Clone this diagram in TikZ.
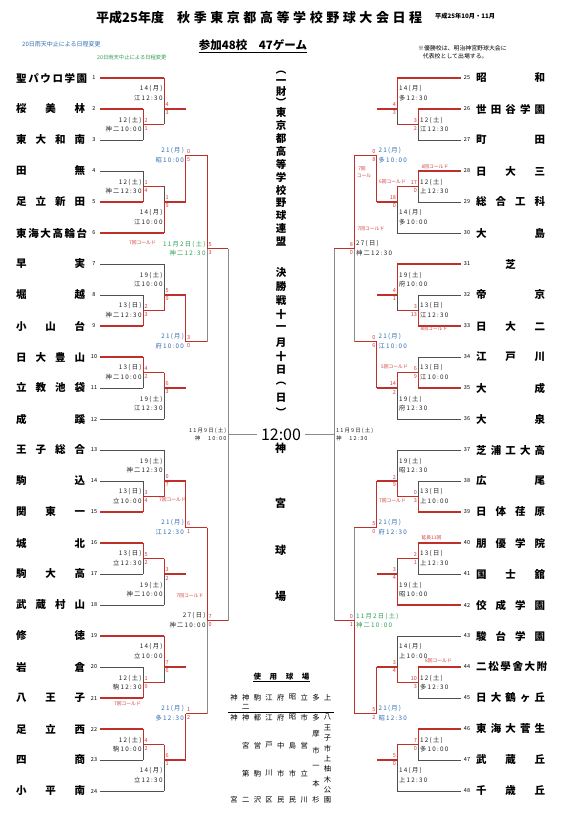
\documentclass[tikz,border=0pt]{standalone}
\usepackage{fontspec}
\setmainfont{Noto Sans CJK JP}
\newfontfamily\labf{Noto Sans CJK JP}[LetterSpace=20]
\definecolor{wred}{HTML}{C0302A}
\definecolor{lgray}{HTML}{505050}
\definecolor{mgray}{HTML}{8A8A8A}
\definecolor{sblue}{HTML}{2F6DB5}
\definecolor{sgreen}{HTML}{2E9E50}
\definecolor{scred}{HTML}{D23C3C}
\definecolor{lk}{HTML}{222222}
\newcounter{mm}
\newcommand\vs[5]{\if#5t\draw[win] (#1,#2) -- (#1,#4);\draw[los] (#1,#4) -- (#1,#3);\else\draw[los] (#1,#2) -- (#1,#4);\draw[win] (#1,#4) -- (#1,#3);\fi}
\newcommand\sg[3]{\if#1#2\draw[win] #3;\else\draw[los] #3;\fi}
\newcommand\Grp[6]{%
 \pgfmathsetmacro\ya{78+31*(#1-1)}%
 \pgfmathsetmacro\yb{\ya+31}\pgfmathsetmacro\yc{\ya+62}%
 \pgfmathsetmacro\yd{\ya+93}\pgfmathsetmacro\ye{\ya+124}%
 \pgfmathsetmacro\yf{\ya+155}\pgfmathsetmacro\yA{\ya+46.5}%
 \pgfmathsetmacro\yB{\ya+108.5}\pgfmathsetmacro\yE{\ya+77.5}%
 \sg{#3}{t}{(\xo,\ya) -- (\xc,\ya)}
 \sg{#2}{t}{(\xo,\yb) -- (\xa,\yb)}
 \sg{#2}{b}{(\xo,\yc) -- (\xa,\yc)}
 \vs{\xa}{\yb}{\yc}{\yA}{#2}
 \draw[win] (\xa,\yA) -- (\xc,\yA);
 \vs{\xc}{\ya}{\yA}{\yb}{#3}
 \draw[win] (\xc,\yb) -- (\xe,\yb);
 \sg{#4}{t}{(\xo,\yd) -- (\xa,\yd)}
 \sg{#4}{b}{(\xo,\ye) -- (\xa,\ye)}
 \vs{\xa}{\yd}{\ye}{\yB}{#4}
 \draw[win] (\xa,\yB) -- (\xc,\yB);
 \sg{#5}{b}{(\xo,\yf) -- (\xc,\yf)}
 \vs{\xc}{\yB}{\yf}{\ye}{#5}
 \draw[win] (\xc,\ye) -- (\xe,\ye);
 \if#6t\draw[win] (\xe,\yb) -- (\xe,\yE);\else\draw[win] (\xe,\ye) -- (\xe,\yE);\fi
 \draw[win] (\xe,\yE) -- (\xf,\yE);}
\newcommand\M[8]{%
 \stepcounter{mm}%
 \node[lbl,text=#8,anchor=\lanc] (md\themm) at ({#1+(\ldx)},{#3-4.5}) {#4};
 \node[lbl,text=#8,anchor=\lanc] (mv\themm) at ({#1+(\ldx)},{#3+4.5}) {#5};
 \node[sc,anchor=\sanc] (ms\themm) at ({#1+(\sdx)},{#2-4}) {#6};
 \node[sc,anchor=\sanc] (mt\themm) at ({#1+(\sdx)},{#2+4}) {#7};}
\begin{document}
\begin{tikzpicture}[x=1pt,y=-1pt,
  win/.style={draw=wred,line width=1.1pt},
  los/.style={draw=lgray,line width=0.7pt},
  los2/.style={draw=mgray,line width=0.7pt},
  lbl/.style={inner sep=0pt,font=\labf\fontsize{6.3}{7}\selectfont},
  slbl/.style={inner sep=0pt,text=lk,font=\labf\fontsize{5.5}{6}\selectfont},
  sc/.style={inner sep=0pt,text=scred,font=\fontsize{5.5}{6}\selectfont},
  ext/.style={inner sep=0pt,text=scred,font=\fontsize{4.8}{5}\selectfont},
  team/.style={inner sep=0pt,font=\bfseries\fontsize{10.5}{11}\selectfont},
  num/.style={inner sep=0pt,font=\fontsize{5.5}{6}\selectfont},
  vt/.style={inner sep=0pt,font=\bfseries\fontsize{10.5}{11}\selectfont},
  tb/.style={inner sep=0pt,font=\fontsize{7.3}{8}\selectfont}]
\fill[white] (0,0) rectangle (570,813);
\useasboundingbox (0,0) rectangle (570,813);
% header
\node[anchor=west,inner sep=0pt,font=\bfseries\fontsize{13}{14}\selectfont] (ttl1) at (96,17.5) {平成25年度};
\node[anchor=west,inner sep=0pt,font=\bfseries\fontsize{13}{14}\selectfont] (ttl2) at (177,17.5) {\makebox[245pt][s]{秋 季 東 京 都 高 等 学 校 野 球 大 会 日 程}};
\node[anchor=west,inner sep=0pt,font=\bfseries\fontsize{6.2}{7}\selectfont] (ttl3) at (435,16) {平成25年10月・11月};
\node[inner sep=0pt,font=\bfseries\fontsize{11.5}{12}\selectfont] (p48) at (253,45) {参加48校　47ゲーム};
\draw[line width=0.6pt] ([yshift=-1.2pt]p48.south west) -- ([yshift=-1.2pt]p48.south east);
\node[anchor=west,inner sep=0pt,text=sblue,font=\fontsize{6}{7}\selectfont] (rain1) at (22,44.3) {20日雨天中止による日程変更};
\node[anchor=west,inner sep=0pt,text=sgreen,font=\fontsize{5.3}{6}\selectfont] (rain2) at (97,57.3) {20日雨天中止による日程変更};
\node[anchor=west,inner sep=0pt,font=\fontsize{5.9}{7}\selectfont] (note1) at (418,48.7) {※優勝校は、明治神宮野球大会に};
\node[anchor=west,inner sep=0pt,font=\fontsize{5.9}{7}\selectfont] (note2) at (422.7,56.3) {代表校として出場する。};
% teams
\foreach \i/\nm in {1/{聖 パ ウ ロ 学 園},2/{桜 美 林},3/{東 大 和 南},4/{田 無},5/{足 立 新 田},6/{東 海 大 高 輪 台},7/{早 実},8/{堀 越},9/{小 山 台},10/{日 大 豊 山},11/{立 教 池 袋},12/{成 蹊},13/{王 子 総 合},14/{駒 込},15/{関 東 一},16/{城 北},17/{駒 大 高},18/{武 蔵 村 山},19/{修 徳},20/{岩 倉},21/{八 王 子},22/{足 立 西},23/{四 商},24/{小 平 南}} {
  \pgfmathsetmacro\ty{78+31*(\i-1)}
  \node[team,anchor=west] (tn\i) at (16,\ty) {\makebox[69pt][s]{\nm}};
  \node[num] (nb\i) at (94,\ty) {\i};
}
\foreach \i/\nm in {25/{昭 和},26/{世 田 谷 学 園},27/{町 田},28/{日 大 三},29/{総 合 工 科},30/{大 島},31/{\hfil 芝\hfil},32/{帝 京},33/{日 大 二},34/{江 戸 川},35/{大 成},36/{大 泉},37/{芝 浦 工 大 高},38/{広 尾},39/{日 体 荏 原},40/{朋 優 学 院},41/{国 士 舘},42/{佼 成 学 園},43/{駿 台 学 園},44/{二 松 學 舍 大 附},45/{日 大 鶴 ヶ 丘},46/{東 海 大 菅 生},47/{武 蔵 丘},48/{千 歳 丘}} {
  \pgfmathsetmacro\ty{78+31*(\i-25)}
  \node[team,anchor=west] (tn\i) at (476,\ty) {\makebox[69pt][s]{\nm}};
  \node[num] (nb\i) at (467,\ty) {\i};
}
% left bracket
\def\xo{100}\def\xa{143.3}\def\xc{164.3}\def\xe{185.7}\def\xf{207.3}
\Grp{1}{t}{t}{b}{b}{b}
\Grp{7}{b}{b}{t}{t}{t}
\Grp{13}{b}{b}{t}{t}{t}
\Grp{19}{b}{t}{t}{t}{b}
\draw[los2] (207.3,248.5) -- (207.3,341.5);
\draw[win] (207.3,155.5) -- (207.3,248.5) -- (228.3,248.5);
\draw[los2] (207.3,620.5) -- (207.3,713.5);
\draw[win] (207.3,527.5) -- (207.3,620.5) -- (228.3,620.5);
\draw[los2] (228.3,248.5) -- (228.3,620.5);
% right bracket
\def\xo{460.7}\def\xa{418.3}\def\xc{397.3}\def\xe{376.7}\def\xf{354.3}
\Grp{1}{t}{t}{t}{t}{b}
\Grp{7}{b}{t}{b}{t}{b}
\Grp{13}{b}{b}{t}{b}{t}
\Grp{19}{t}{b}{t}{t}{t}
\draw[los2] (354.3,248.5) -- (354.3,341.5);
\draw[win] (354.3,155.5) -- (354.3,248.5) -- (334.3,248.5);
\draw[los2] (354.3,527.5) -- (354.3,620.5);
\draw[win] (354.3,713.5) -- (354.3,620.5) -- (334.3,620.5);
\draw[los2] (334.3,248.5) -- (334.3,620.5);
% final
\node[inner sep=3.5pt,font=\fontsize{16}{17}\selectfont] (clock) at (281,434.5) {12:00};
\draw[los2] (228.3,434.5) -- (clock.west);
\draw[los2] (334.3,434.5) -- (clock.east);
\node[slbl,anchor=east] (sfl1) at (226.5,430.5) {11月9日(土)};
\node[slbl,anchor=east] (sfl2) at (226.5,438.5) {神　10:00};
\node[slbl,anchor=west] (sfr1) at (336,430.5) {11月9日(土)};
\node[slbl,anchor=west] (sfr2) at (336,438.5) {神　12:30};
% left labels
\def\lanc{east}\def\ldx{-1.6}\def\sanc{west}\def\sdx{1.2}
\M{143.3}{124.5}{124.5}{12(土)}{神二10:00}{2}{1}{lk}
\M{164.3}{109}{93.5}{14(月)}{江12:30}{4}{3}{lk}
\M{143.3}{186.5}{186.5}{12(土)}{神二12:30}{1}{4}{lk}
\M{164.3}{202}{217.5}{14(月)}{江10:00}{1}{9}{lk}
\M{185.7}{155.5}{155.5}{21(月)}{昭10:00}{0}{5}{sblue}
\M{143.3}{310.5}{310.5}{13(日)}{神二12:30}{2}{3}{lk}
\M{164.3}{295}{279.5}{19(土)}{江10:00}{5}{9}{lk}
\M{143.3}{372.5}{372.5}{13(日)}{神二10:00}{4}{2}{lk}
\M{164.3}{388}{403.5}{19(土)}{江12:30}{6}{3}{lk}
\M{185.7}{341.5}{341.5}{21(月)}{府10:00}{3}{0}{sblue}
\M{143.3}{496.5}{496.5}{13(日)}{立10:00}{3}{4}{lk}
\M{164.3}{481}{465.5}{19(土)}{神二12:30}{0}{7}{lk}
\M{143.3}{558.5}{558.5}{13(日)}{立12:30}{5}{2}{lk}
\M{164.3}{574}{589.5}{19(土)}{神二10:00}{3}{2}{lk}
\M{185.7}{527.5}{527.5}{21(月)}{江12:30}{6}{1}{sblue}
\M{143.3}{682.5}{682.5}{12(土)}{駒12:30}{1}{9}{lk}
\M{164.3}{667}{651.5}{14(月)}{立10:00}{7}{6}{lk}
\M{143.3}{744.5}{744.5}{12(土)}{駒10:00}{4}{2}{lk}
\M{164.3}{760}{775.5}{14(月)}{立12:30}{6}{1}{lk}
\M{185.7}{713.5}{713.5}{21(月)}{多12:30}{1}{2}{sblue}
\M{207.3}{248.5}{248.5}{11月2日(土)}{神二12:30}{5}{3}{sgreen}
\M{207.3}{620.5}{620.5}{27(日)}{神二10:00}{7}{0}{lk}
% right labels
\def\lanc{west}\def\ldx{1.6}\def\sanc{east}\def\sdx{-1.2}
\M{418.3}{124.5}{124.5}{12(土)}{江12:30}{3}{2}{lk}
\M{397.3}{109}{93.5}{14(月)}{多12:30}{4}{3}{lk}
\M{418.3}{186.5}{186.5}{12(土)}{上12:30}{17}{0}{lk}
\M{397.3}{202}{217.5}{14(月)}{多10:00}{18}{0}{lk}
\M{376.7}{155.5}{155.5}{21(月)}{多10:00}{0}{8}{sblue}
\M{418.3}{310.5}{310.5}{13(日)}{江12:30}{3}{13}{lk}
\M{397.3}{295}{279.5}{19(土)}{府10:00}{4}{1}{lk}
\M{418.3}{372.5}{372.5}{13(日)}{江10:00}{6}{9}{lk}
\M{397.3}{388}{403.5}{19(土)}{府12:30}{14}{2}{lk}
\M{376.7}{341.5}{341.5}{21(月)}{江10:00}{0}{6}{sblue}
\M{418.3}{496.5}{496.5}{13(日)}{上10:00}{0}{3}{lk}
\M{397.3}{481}{465.5}{19(土)}{昭12:30}{2}{9}{lk}
\M{418.3}{558.5}{558.5}{13(日)}{上12:30}{2}{1}{lk}
\M{397.3}{574}{589.5}{19(土)}{昭10:00}{3}{4}{lk}
\M{376.7}{527.5}{527.5}{21(月)}{府12:30}{5}{0}{sblue}
\M{418.3}{682.5}{682.5}{12(土)}{多12:30}{10}{3}{lk}
\M{397.3}{667}{651.5}{14(月)}{上10:00}{3}{4}{lk}
\M{418.3}{744.5}{744.5}{12(土)}{多10:00}{7}{0}{lk}
\M{397.3}{760}{775.5}{14(月)}{上12:30}{5}{0}{lk}
\M{376.7}{713.5}{713.5}{21(月)}{昭12:30}{5}{2}{sblue}
\M{354.3}{248.5}{248.5}{27(日)}{神二12:30}{8}{0}{lk}
\M{354.3}{620.5}{620.5}{11月2日(土)}{神二10:00}{0}{1}{sgreen}
% extra notes
\node[ext] (x1) at (142.5,242.7) {7回コールド};
\node[ext] (x2) at (172.5,500) {7回コールド};
\node[ext] (x3) at (190,596) {7回コールド};
\node[ext] (x4) at (127.5,704) {7回コールド};
\node[ext] (x5) at (435,167) {8回コールド};
\node[ext] (x6) at (392.5,181.7) {6回コールド};
\node[ext] (x7) at (362,168.3) {7回};
\node[ext] (x8) at (364,176) {コール};
\node[ext] (x9) at (371,229) {7回コールド};
\node[ext] (x10) at (434,329) {8回コールド};
\node[ext] (x11) at (394.5,367) {5回コールド};
\node[ext] (x12) at (392.5,500.7) {7回コールド};
\node[ext] (x13) at (431.5,538) {延長11回};
\node[ext] (x14) at (438.5,661) {8回コールド};
% centre vertical text
\foreach \ch/\yy [count=\k] in {︵/73,一/81.7,財/91.7,︶/101.7} \node[vt] (va\k) at (281,\yy) {\ch};
\foreach \ch [count=\k from 0] in {東,京,都,高,等,学,校,野,球,連,盟} {\pgfmathsetmacro\yy{113+12.85*\k}\node[vt] (vb\k) at (281,\yy) {\ch};}
\foreach \ch [count=\k from 0] in {決,勝,戦,十,一,月,十,日,︵,日,︶} {\pgfmathsetmacro\yy{273+13.87*\k}\node[vt] (vc\k) at (281,\yy) {\ch};}
\foreach \ch/\yy [count=\k] in {神/448.3,宮/503.3,球/550,場/596} \node[vt,font=\bfseries\fontsize{11}{12}\selectfont] (vd\k) at (280.5,\yy) {\ch};
% venue table
\node[tb,font=\bfseries\fontsize{7.5}{8}\selectfont] (vh) at (281.5,676.7) {\makebox[56pt][s]{使 用 球 場}};
\draw[line width=0.6pt] (253,681.3) -- (310,681.3);
\foreach \ch [count=\k from 0] in {神,神,駒,江,府,昭,立,多,上} {\pgfmathsetmacro\xx{234+11.7*\k}\node[tb] (ab\k) at (\xx,697.3) {\ch};}
\node[tb] (ab9) at (245.7,707.3) {二};
\draw[line width=0.7pt] (228.3,712.3) -- (334,712.3);
\foreach \ch/\xx/\yy [count=\k] in {神/234/717.3,宮/234/800,
  神/245.7/717.3,宮/245.7/745.3,第/245.7/773.3,二/245.7/800,
  都/257.4/717.3,営/257.4/745.3,駒/257.4/773.3,沢/257.4/800,
  江/269.1/717.3,戸/269.1/745.3,川/269.1/773.3,区/269.1/800,
  府/280.8/717.3,中/280.8/745.3,市/280.8/773.3,民/280.8/800,
  昭/292.5/717.3,島/292.5/745.3,市/292.5/773.3,民/292.5/800,
  市/304.2/717.3,営/304.2/745.3,立/304.2/773.3,川/304.2/800,
  多/315.9/717.3,摩/315.9/733.8,市/315.9/750.4,一/315.9/767,本/315.9/783.5,杉/315.9/800,
  八/327.6/717.3,王/327.6/727.6,子/327.6/738,市/327.6/748.3,上/327.6/758.7,柚/327.6/769,木/327.6/779.3,公/327.6/789.7,園/327.6/800}
  \node[tb] (vn\k) at (\xx,\yy) {\ch};
\end{tikzpicture}
\end{document}
